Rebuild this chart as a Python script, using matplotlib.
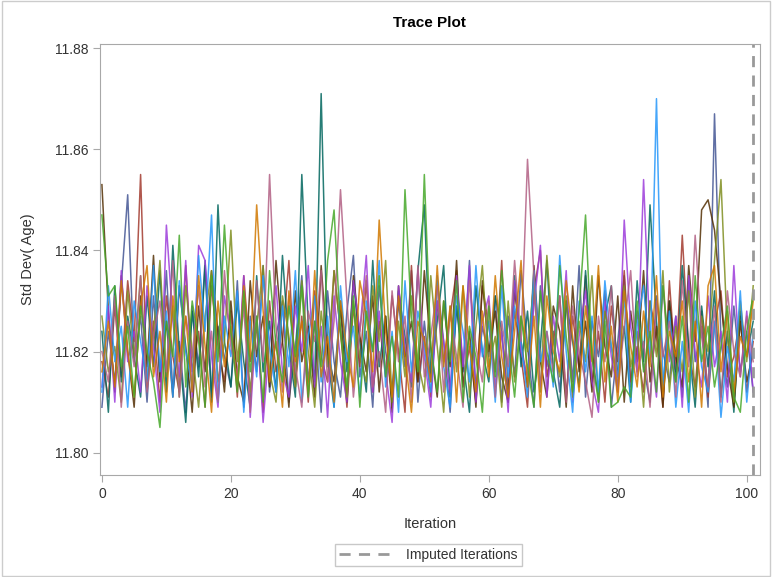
import numpy as np
import matplotlib.pyplot as plt

plt.rcParams["font.family"] = ["Liberation Sans", "DejaVu Sans"]

# values are thousandths above 11.80 (iterations 0..101)
BASE = 11.80
iterations = list(range(102))

chain_dark_blue = [9, 24, 14, 33, 51, 18, 27, 10, 31, 15,
                   36, 12, 22, 8, 29, 17, 38, 11, 25, 19,
                   13, 34, 9, 27, 16, 37, 12, 23, 30, 10,
                   21, 35, 14, 26, 8, 32, 18, 11, 28, 39,
                   15, 24, 9, 33, 20, 12, 30, 17, 36, 10,
                   26, 14, 34, 22, 8, 29, 16, 38, 12, 25,
                   19, 31, 10, 27, 15, 36, 21, 9, 33, 17,
                   24, 12, 30, 14, 37, 11, 26, 19, 32, 9,
                   22, 35, 13, 28, 17, 10, 31, 20, 14, 27,
                   11, 34, 18, 25, 9, 67, 22, 13, 29, 16,
                   24, 12]
chain_red = [18, 11, 29, 15, 34, 22, 55, 13, 26, 10,
             31, 19, 12, 37, 16, 24, 9, 33, 21, 14,
             28, 11, 35, 18, 25, 8, 30, 16, 22, 38,
             13, 27, 10, 32, 19, 14, 36, 24, 9, 29,
             17, 34, 12, 26, 15, 31, 20, 8, 37, 14,
             23, 11, 30, 18, 27, 36, 13, 21, 10, 33,
             25, 16, 38, 12, 28, 19, 9, 32, 40, 15,
             22, 31, 11, 27, 17, 35, 13, 24, 10, 29,
             18, 36, 14, 21, 12, 30, 23, 9, 34, 16,
             43, 20, 13, 28, 11, 25, 32, 15, 19, 27,
             12, 22]
chain_teal = [24, 8, 33, 14, 27, 19, 11, 31, 17, 36,
              12, 41, 20, 6, 28, 15, 37, 10, 49, 22,
              13, 30, 18, 9, 35, 16, 26, 12, 39, 21,
              11, 55, 25, 14, 71, 19, 9, 30, 16, 34,
              22, 12, 38, 17, 27, 10, 32, 23, 13, 36,
              49, 15, 26, 37, 11, 29, 18, 8, 33, 20,
              14, 31, 24, 10, 35, 17, 28, 12, 21, 38,
              16, 9, 30, 22, 13, 36, 19, 11, 27, 33,
              15, 25, 10, 34, 18, 49, 26, 12, 30, 14,
              37, 21, 9, 29, 17, 32, 11, 24, 8, 28,
              19, 26]
chain_brown = [53, 28, 12, 35, 20, 9, 31, 17, 39, 14,
               26, 11, 33, 21, 8, 29, 16, 36, 24, 12,
               30, 15, 10, 34, 19, 27, 13, 38, 22, 9,
               32, 18, 25, 11, 37, 20, 14, 29, 10, 35,
               23, 16, 31, 12, 27, 8, 33, 19, 26, 14,
               36, 21, 11, 30, 17, 38, 13, 24, 9, 34,
               20, 28, 15, 10, 32, 22, 13, 37, 18, 11,
               29, 24, 9, 33, 16, 26, 12, 35, 21, 15,
               31, 10, 28, 18, 36, 14, 25, 9, 30, 19,
               13, 37, 22, 48, 50, 44, 30, 17, 9, 26,
               14, 20]
chain_purple = [13, 29, 10, 36, 18, 24, 12, 33, 21, 8,
                45, 26, 15, 38, 11, 41, 38, 19, 9, 31,
                23, 14, 35, 7, 27, 6, 22, 33, 16, 11,
                29, 20, 37, 13, 25, 7, 31, 18, 10, 34,
                24, 39, 12, 28, 16, 6, 33, 21, 14, 36,
                19, 9, 30, 22, 12, 35, 17, 37, 10, 26,
                31, 13, 24, 8, 34, 20, 15, 29, 41, 11,
                27, 18, 36, 10, 23, 32, 14, 8, 30, 19,
                12, 46, 25, 16, 54, 22, 11, 33, 18, 27,
                9, 35, 20, 13, 31, 17, 24, 10, 37, 15,
                28, 12]
chain_olive = [27, 16, 21, 10, 32, 19, 35, 13, 24, 38,
               15, 29, 11, 33, 20, 9, 27, 36, 14, 22,
               44, 18, 30, 12, 25, 37, 16, 10, 31, 23,
               13, 34, 20, 9, 28, 17, 36, 24, 11, 30,
               19, 14, 33, 22, 38, 10, 26, 15, 31, 18,
               12, 35, 21, 8, 29, 16, 33, 11, 25, 37,
               17, 23, 9, 30, 14, 27, 20, 34, 12, 39,
               22, 15, 31, 11, 26, 18, 35, 10, 28, 21,
               13, 33, 17, 24, 9, 30, 19, 36, 12, 25,
               16, 32, 11, 27, 20, 38, 54, 23, 10, 30,
               18, 33]
chain_light_blue = [12, 33, 18, 25, 9, 30, 22, 14, 37, 16,
                    28, 11, 34, 20, 13, 39, 24, 47, 10, 27,
                    19, 32, 8, 26, 15, 35, 21, 12, 29, 17,
                    36, 10, 23, 31, 14, 27, 9, 33, 18, 25,
                    11, 30, 20, 38, 13, 24, 8, 34, 16, 28,
                    21, 12, 35, 17, 9, 31, 24, 14, 37, 19,
                    26, 10, 33, 15, 29, 22, 11, 36, 18, 24,
                    13, 39, 20, 8, 30, 16, 27, 12, 34, 21,
                    15, 31, 10, 25, 33, 18, 70, 13, 28, 9,
                    22, 8, 30, 17, 12, 26, 7, 21, 14, 32,
                    10, 24]
chain_pink = [20, 14, 31, 9, 26, 17, 35, 12, 23, 30,
              16, 38, 11, 27, 19, 33, 13, 24, 10, 36,
              21, 15, 29, 8, 34, 18, 55, 25, 12, 31,
              17, 9, 28, 22, 36, 14, 26, 52, 30, 11,
              24, 35, 13, 20, 8, 32, 18, 27, 10, 37,
              15, 23, 33, 12, 28, 19, 9, 34, 21, 14,
              30, 11, 26, 17, 38, 22, 58, 35, 13, 24,
              16, 31, 10, 29, 20, 14, 7, 27, 18, 33,
              12, 25, 36, 15, 22, 9, 30, 19, 26, 11,
              34, 17, 43, 23, 13, 29, 10, 32, 20, 15,
              27, 18]
chain_orange = [16, 26, 13, 34, 20, 11, 29, 37, 15, 24,
                10, 31, 18, 27, 12, 35, 21, 8, 30, 17,
                25, 13, 33, 19, 49, 28, 14, 22, 9, 32,
                18, 26, 12, 36, 15, 23, 10, 30, 20, 13,
                34, 27, 16, 46, 24, 11, 31, 19, 8, 26,
                22, 14, 37, 17, 29, 10, 33, 21, 12, 28,
                15, 35, 19, 11, 24, 38, 13, 27, 9, 31,
                20, 16, 34, 23, 12, 29, 18, 37, 14, 25,
                10, 32, 21, 13, 28, 17, 35, 11, 24, 19,
                30, 14, 26, 9, 33, 37, 16, 28, 12, 23,
                19, 30]
chain_green = [47, 31, 33, 17, 25, 11, 29, 20, 14, 5,
               26, 19, 43, 13, 30, 22, 9, 35, 18, 45,
               24, 12, 32, 16, 27, 10, 36, 21, 14, 29,
               19, 33, 11, 26, 17, 38, 48, 24, 13, 31,
               9, 28, 20, 35, 15, 23, 11, 52, 27, 16,
               55, 21, 12, 30, 18, 34, 10, 25, 19, 8,
               29, 15, 36, 22, 11, 27, 17, 9, 32, 20,
               14, 37, 23, 12, 28, 47, 19, 10, 26, 9,
               10, 13, 11, 30, 16, 24, 12, 33, 20, 14,
               27, 10, 35, 18, 25, 13, 21, 29, 11, 8,
               24, 31]

chains = [chain_dark_blue, chain_red, chain_teal, chain_brown, chain_purple,
          chain_olive, chain_light_blue, chain_pink, chain_orange, chain_green]
chain_colors = ["#445694", "#A23A2E", "#01665E", "#543005", "#9D3CDB",
                "#7F8E1F", "#2597FA", "#B26084", "#D17800", "#47A82A"]
imputed_iteration = 101

fig = plt.figure(figsize=(7.72, 5.77), dpi=100)
ax = fig.add_axes([0.1295, 0.1768, 0.8545, 0.7469])

for vals, col in zip(chains, chain_colors):
    ax.plot(iterations, BASE + np.array(vals) / 1000.0, color=col, lw=1.1, alpha=0.85)

ax.axvline(imputed_iteration, color="#999999", lw=2, ls=(0, (4, 3)),
           label="Imputed Iterations")

ax.set_xlim(-0.3, 102)
ax.set_ylim(11.7956, 11.8808)
ax.set_xticks([0, 20, 40, 60, 80, 100])
ax.set_yticks([11.80, 11.82, 11.84, 11.86, 11.88])
ax.set_yticklabels(["11.80", "11.82", "11.84", "11.86", "11.88"])
for s in ax.spines.values():
    s.set_color("#A8A8A8")
ax.tick_params(colors="#A8A8A8", labelcolor="#333333", labelsize=10, length=5)

ax.set_title("Trace Plot", fontsize=11, fontweight="bold", pad=12)
ax.set_xlabel("Iteration", fontsize=10.5, color="#333333", labelpad=12)
ax.set_ylabel("Std Dev( Age)", fontsize=10.5, color="#333333", labelpad=14)

leg = fig.legend(loc="center", bbox_to_anchor=(0.555, 0.038), frameon=True,
                 fancybox=False, fontsize=10, handlelength=4, borderpad=0.3)
leg.get_frame().set_edgecolor("#BBBBBB")
for t in leg.get_texts():
    t.set_color("#333333")

# light border around the whole graph
fig.patches.append(plt.Rectangle((0.002, 0.002), 0.996, 0.996, transform=fig.transFigure,
                                 fill=False, edgecolor="#CCCCCC", lw=1))

fig.savefig("out.png", dpi=100)
